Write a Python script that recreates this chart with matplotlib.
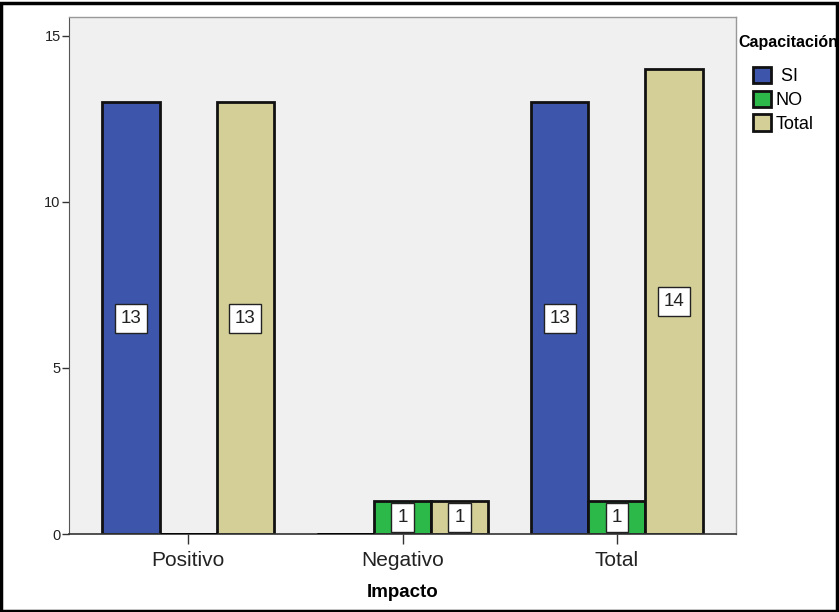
import matplotlib
matplotlib.use("Agg")
import matplotlib.pyplot as plt
from matplotlib.patches import Rectangle
import numpy as np

categories = ["Positivo", "Negativo", "Total"]
series_names = ["SI", "NO", "Total"]
si_values = [13, 0, 13]
no_values = [0, 1, 1]
total_values = [13, 1, 14]
yticks = [0, 5, 10, 15]

colors = ["#3D56AB", "#2DB84A", "#D3CF97"]
plt.rcParams['font.family'] = ['Liberation Sans', 'DejaVu Sans']

W, H = 839, 612
fig = plt.figure(figsize=(W/100, H/100), dpi=100)
ax = fig.add_axes([69/W, 1-534/H, (736-69)/W, (534-17)/H])
ax.set_facecolor("#F0F0F0")

x = np.arange(len(categories))
width = 0.266
series = [si_values, no_values, total_values]
for i, (vals, c, name) in enumerate(zip(series, colors, series_names)):
    pos = x + (i - 1) * width
    for p, v in zip(pos, vals):
        if v == 0:
            ax.plot([p - width/2, p + width/2], [0, 0], color="black", lw=2, zorder=3, solid_capstyle="butt")
    ax.bar(pos, vals, width, color=c, edgecolor="#111111", linewidth=2,
           label=(" " + name if name == "SI" else name), zorder=2)
    for p, v in zip(pos, vals):
        if v > 0:
            ax.text(p, v/2, str(v), ha="center", va="center", fontsize=13.5, color="#222222", zorder=4,
                    bbox=dict(boxstyle="square,pad=0.32", fc="white", ec="#222222", lw=1))

ax.set_xlim(-0.555, 2.555)
ax.set_ylim(0, 15.57)
ax.set_xticks(x)
ax.set_xticklabels(categories, fontsize=15, color="#222222")
ax.set_yticks(yticks)
ax.set_yticklabels([str(t) for t in yticks], fontsize=10.5, color="#222222")
ax.tick_params(axis="x", length=7, width=1, pad=5, color="#333333")
ax.tick_params(axis="y", length=5, width=1, pad=1, color="#333333")
for s in ["top", "right"]:
    ax.spines[s].set_color("#999999")
    ax.spines[s].set_linewidth(1)
ax.spines["left"].set_color("#555555")
ax.spines["bottom"].set_color("#333333")
ax.spines["bottom"].set_linewidth(1.2)
ax.set_xlabel("Impacto", fontsize=13.5, fontweight="bold", labelpad=10)

fig.text(738/W, 1-42/H, "Capacitación", fontsize=11.5, fontweight="bold", ha="left", va="center")
leg = fig.legend(loc="upper left", bbox_to_anchor=(753/W, 1-67/H), frameon=False,
                 fontsize=13, handlelength=1.0, handleheight=1.0, handletextpad=0.25,
                 labelspacing=0.3, borderaxespad=0, borderpad=0)
for h in leg.legend_handles:
    h.set_linewidth(2)

fig.add_artist(Rectangle((1/W, 1/H), (W-3)/W, (H-4)/H, transform=fig.transFigure, fill=False,
                         edgecolor="black", lw=2.5))
fig.savefig("out.png", dpi=100)
